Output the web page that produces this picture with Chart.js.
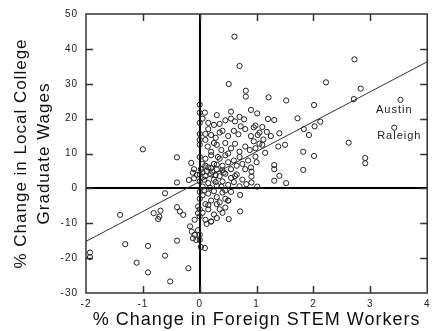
<!DOCTYPE html>
<html>
<head>
<meta charset="utf-8">
<script src="https://cdn.jsdelivr.net/npm/chart.js@4"></script>
<style>
  html, body { margin: 0; padding: 0; background: #fff; }
  #wrap { width: 435px; height: 331px; }
</style>
</head>
<body>
<div id="wrap"><canvas id="stem-chart"></canvas></div>
<script>
// % change in foreign STEM workers (x) and in local college graduate wages (y), one entry per city
let stemChange = [
  -1.0, -0.40, 0.61, 0.70, 0.51, 0.81, 0.81, 1.21, 1.52, 2.22, 2.72, 2.83, 2.71, 3.53, 3.42,
  2.01, 1.72, 1.83, 2.02, 2.12, 1.92, 1.50, 1.38, 1.82, 2.01, 2.62, 2.91, 2.91, 1.31, 1.31,
  1.40, 1.31, 1.52, 1.82, 1.01, 0.91, 0.91, 0.91, 0.71, 0.51, 0.50, 0.71, 0.20, 0.09, 0.0,
  0.0, 0.02,
  -1.93, -1.93, -1.40, -1.31, -1.11, -0.91, -0.91, -0.81, -0.73, -0.69, -0.71, -0.61, -0.61, -0.52,
  -0.40, -0.40, -0.40, -0.35, -0.29, -0.20, -0.19, -0.17, -0.14, -0.09, -0.06, -0.12, -0.09, -0.03,
  -0.03, -0.10,
  1.01, 1.20, 1.31, 0.98, 1.10, 1.18, 1.02, 1.12, 1.25, 0.98, 0.98, 1.15, 1.05, 1.40,
  0.0, 0.0, 0.09, 0.05, 0.15, 0.25, 0.35, 0.45, 0.55, 0.62, 0.70, 0.78, 0.90, 0.55, 0.30,
  0.0, 0.0, 0.10, 0.20, 0.28, 0.40, 0.50, 0.60, 0.68, 0.80, 0.90, 0.95, 0.35, 0.15, 0.72, 1.05,
  0.0, 0.0, 0.10, 0.14, 0.20, 0.30, 0.38, 0.45, 0.55, 0.62, 0.70, 0.80, 0.88, 0.95, 1.10, 0.25, 0.50,
  0.0, 0.05, 0.10, 0.15, 0.20, 0.25, 0.30, 0.35, 0.40, 0.45, 0.50, 0.55, 0.60, 0.65, 0.70, 0.75,
  0.80, 0.85, 0.90, 1.00, 0.12, 0.22, 0.32, 0.42, 0.02,
  0.0, 0.0, 0.05, 0.10, 0.15, 0.20, 0.25, 0.30, 0.35, 0.40, 0.45, 0.50, 0.55, 0.60, 0.65, 0.70,
  0.75, 0.82, 0.62, 0.08, 0.18, 0.28, 0.38,
  0.0, 0.0, 0.05, 0.10, 0.15, 0.20, 0.25, 0.30, 0.35, 0.40, 0.45, 0.50, 0.55, 0.15, 0.30, 0.08,
  0.0, 0.0, 0.05, 0.10, 0.15, 0.20, 0.25, 0.30, 0.35, 0.12, 0.40, 0.45, -0.03,
  -0.15, -0.10, -0.05, -0.12, 0.10, 0.20, 0.30, 0.40, 0.05, 0.28, 0.45
];
let wageChange = [
  11.2, 8.9, 43.5, 35.1, 29.9, 28.0, 26.3, 26.1, 25.2, 30.4, 37.0, 28.6, 25.6, 25.4, 17.4,
  23.9, 20.1, 17.0, 17.8, 19.1, 15.3, 12.5, 12.0, 10.5, 9.3, 13.1, 8.7, 7.2, 6.7, 5.5,
  3.6, 2.2, 1.5, 5.3, 0.5, 4.8, 3.4, 1.7, -6.6, -8.8, -3.5, -1.9, -9.5, -17.1, -13.3,
  -14.8, -16.8,
  -18.4, -19.7, -7.6, -16.0, -21.3, -16.5, -24.1, -7.1, -8.8, -6.4, -8.1, -19.3, -1.4, -26.7,
  1.7, -15.0, -5.4, -6.6, -7.6, -22.9, 2.4, -10.9, -12.4, -13.3, -14.8, -14.3, -9.0, -7.1,
  -5.2, 2.9,
  21.5, 19.9, 19.6, 18.0, 17.6, 16.2, 15.3, 14.0, 15.0, 11.5, 9.1, 10.2, 12.8, 15.8,
  24.0, 21.7, 21.7, 20.0, 18.8, 18.2, 18.5, 19.5, 20.0, 19.2, 20.5, 19.8, 22.5, 22.0, 21.0,
  18.8, 15.6, 15.6, 15.3, 14.5, 16.5, 15.0, 16.5, 15.5, 17.0, 15.0, 17.5, 16.0, 17.0, 17.8, 16.0,
  13.9, 12.5, 13.9, 12.0, 10.5, 12.5, 11.0, 13.0, 11.5, 12.8, 10.5, 12.0, 11.0, 13.5, 12.5, 13.0, 10.0,
  9.0, 7.0, 8.5, 6.0, 9.5, 7.0, 5.5, 8.5, 6.5, 9.5, 7.5, 5.5, 8.0, 6.5, 9.0, 7.0,
  5.5, 8.0, 6.0, 7.5, 5.0, 4.8, 9.0, 4.5, 5.5,
  4.0, 2.0, 0.5, 3.5, 1.5, 4.0, 2.5, 0.8, 3.5, 2.0, 4.2, 1.0, 3.0, 1.8, 4.0, 0.6,
  2.5, 1.2, 3.5, 2.5, 0.2, 3.8, 0.5,
  -1.0, -3.0, -2.0, -4.5, -1.5, -3.5, -0.8, -2.5, -4.0, -1.2, -3.0, -3.5, -1.0, -4.8, -4.5, -0.5,
  -6.0, -8.0, -7.0, -9.0, -6.0, -9.5, -7.5, -8.5, -6.0, -10.2, -7.0, -5.5, -12.0,
  7.3, 5.5, 3.9, 4.5, 6.5, 5.8, 6.8, 5.2, 4.6, 1.8, -0.6
];

// least squares fit line end points
let fitX = [-2, 4];
let fitY = [-15.2, 36.3];

// labelled cities
let cityNames = ['Austin', 'Raleigh'];
let cityX = [3.10, 3.12];
let cityY = [22.5, 15.0];

let xTicks = [-2, -1, 0, 1, 2, 3, 4];
let yTicks = [-30, -20, -10, 0, 10, 20, 30, 40, 50];

let points = [];
for (i = 0; i < stemChange.length; i++) {
    points.push({x: stemChange[i], y: wageChange[i]});
}
let fitLine = fitX.map((x, i) => ({x: x, y: fitY[i]}));

// the old plot's lettering is a bit spread out
const spacingPlugin = {
    id: 'spacing',
    beforeDraw(chart) {
        chart.ctx.letterSpacing = '1px';
    }
};

// frame, inward tick marks and city names
const framePlugin = {
    id: 'frame',
    afterDatasetsDraw(chart) {
        const ctx = chart.ctx;
        const a = chart.chartArea;
        const xs = chart.scales.x, ys = chart.scales.y;
        ctx.save();
        ctx.strokeStyle = '#333';
        ctx.lineWidth = 1.5;
        ctx.strokeRect(a.left, a.top, a.right - a.left, a.bottom - a.top);
        const len = 7;
        ctx.beginPath();
        xTicks.slice(1, -1).forEach(v => {
            const px = Math.round(xs.getPixelForValue(v)) + 0.5;
            ctx.moveTo(px, a.top); ctx.lineTo(px, a.top + len);
            ctx.moveTo(px, a.bottom); ctx.lineTo(px, a.bottom - len);
        });
        yTicks.slice(1, -1).forEach(v => {
            const py = Math.round(ys.getPixelForValue(v)) + 0.5;
            ctx.moveTo(a.left, py); ctx.lineTo(a.left + len, py);
            ctx.moveTo(a.right, py); ctx.lineTo(a.right - len, py);
        });
        ctx.stroke();
        ctx.fillStyle = '#222';
        ctx.font = '11px "Liberation Sans", Arial, sans-serif';
        ctx.textBaseline = 'middle';
        for (i = 0; i < cityNames.length; i++) {
            ctx.fillText(cityNames[i], xs.getPixelForValue(cityX[i]), ys.getPixelForValue(cityY[i]));
        }
        ctx.restore();
    }
};

const zeroLine = c => (c.tick && c.tick.value === 0) ? '#000' : 'rgba(0,0,0,0)';

const ctx = document.getElementById('stem-chart').getContext('2d');
new Chart(ctx, {
    type: 'scatter',
    plugins: [spacingPlugin, framePlugin],
    data: {
        datasets: [{
            data: points,
            pointRadius: 2.6,
            pointBorderWidth: 1,
            borderColor: '#222',
            backgroundColor: 'rgba(255,255,255,0)',
            pointHoverRadius: 2.6
        }, {
            type: 'line',
            data: fitLine,
            borderColor: '#333',
            borderWidth: 1,
            pointRadius: 0,
            fill: false
        }]
    },
    options: {
        responsive: true,
        maintainAspectRatio: false,
        animation: false,
        layout: {
            padding: {top: 14, right: 2, left: 0, bottom: 0}
        },
        scales: {
            x: {
                type: 'linear',
                min: -2,
                max: 4,
                afterBuildTicks: s => { s.ticks = xTicks.map(v => ({value: v})); },
                afterFit: s => { s.height = 38; },
                grid: {
                    color: zeroLine,
                    lineWidth: 2,
                    drawTicks: false
                },
                border: { display: false },
                ticks: {
                    padding: 5,
                    color: '#222',
                    maxRotation: 0,
                    font: { size: 10, family: '"Liberation Sans", Arial, sans-serif' }
                },
                title: {
                    display: true,
                    text: '% Change in Foreign STEM Workers',
                    color: '#111',
                    padding: {top: 0, bottom: 0},
                    font: { size: 18, family: '"Liberation Sans", Arial, sans-serif' }
                }
            },
            y: {
                type: 'linear',
                min: -30,
                max: 50,
                afterBuildTicks: s => { s.ticks = yTicks.map(v => ({value: v})); },
                afterFit: s => { s.width = 86; },
                grid: {
                    color: zeroLine,
                    lineWidth: 2,
                    drawTicks: false
                },
                border: { display: false },
                ticks: {
                    padding: 8,
                    color: '#222',
                    font: { size: 10, family: '"Liberation Sans", Arial, sans-serif' }
                },
                title: {
                    display: true,
                    text: ['% Change in Local College', 'Graduate Wages'],
                    color: '#111',
                    padding: {top: 10, bottom: 0},
                    font: { size: 17, family: '"Liberation Sans", Arial, sans-serif', lineHeight: 1.35 }
                }
            }
        },
        plugins: {
            legend: { display: false },
            tooltip: { enabled: false }
        }
    }
});
</script>
</body>
</html>
